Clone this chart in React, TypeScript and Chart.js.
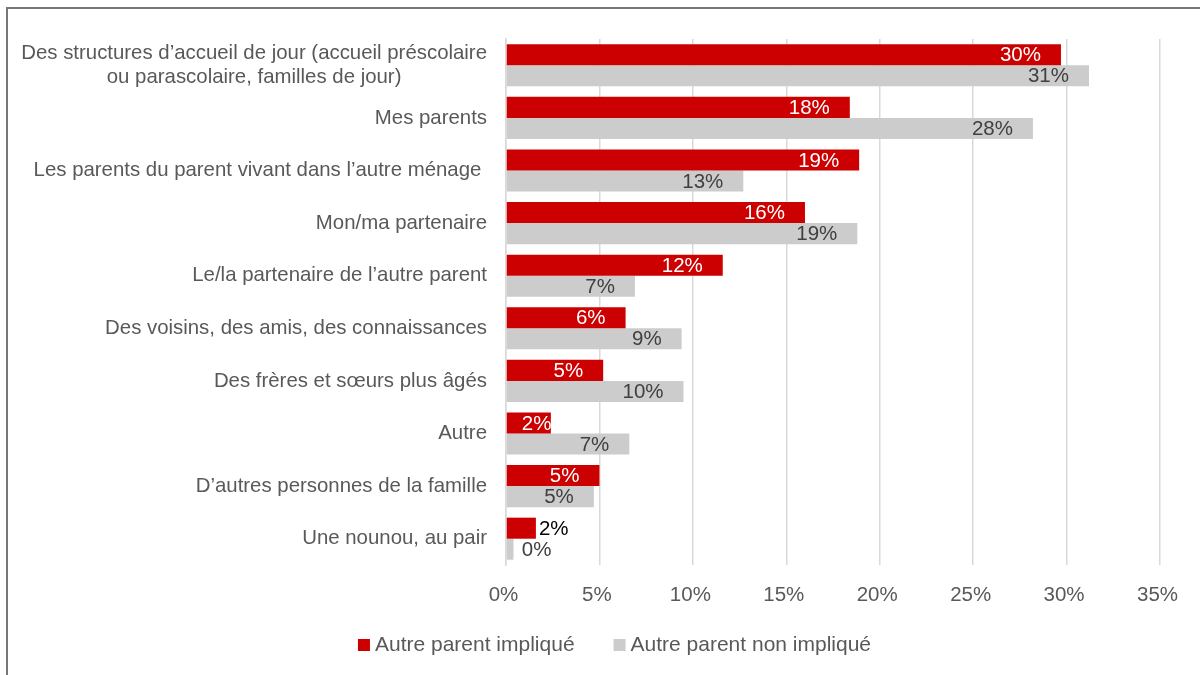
import React, { useEffect, useRef } from "react";
import { Chart, registerables } from "chart.js";

Chart.register(...registerables);

const categories: (string | string[])[] = [
  ["Des structures d’accueil de jour (accueil préscolaire", "ou parascolaire, familles de jour)"],
  "Mes parents",
  "Les parents du parent vivant dans l’autre ménage ",
  "Mon/ma partenaire",
  "Le/la partenaire de l’autre parent",
  "Des voisins, des amis, des connaissances",
  "Des frères et sœurs plus âgés",
  "Autre",
  "D’autres personnes de la famille",
  "Une nounou, au pair",
];

const seriesNames = ["Autre parent impliqué", "Autre parent non impliqué"];
const impliqueValues = [29.7, 18.4, 18.9, 16.0, 11.6, 6.4, 5.2, 2.4, 5.0, 1.6];
const nonImpliqueValues = [31.2, 28.2, 12.7, 18.8, 6.9, 9.4, 9.5, 6.6, 4.7, 0.4];
const xMin = 0;
const xMax = 35;
const xStep = 5;

const RED = "#CC0000";
const GRAY = "#CCCCCC";
const TEXT = "#595959";
const FONT = "'Liberation Sans', Arial, sans-serif";

const categoryLabelPlugin = {
  id: "categoryLabels",
  afterDraw(chart: any) {
    const { ctx, chartArea } = chart;
    const yScale = chart.scales.y;
    ctx.save();
    ctx.font = `20.4px ${FONT}`;
    ctx.fillStyle = TEXT;
    ctx.textBaseline = "middle";
    const right = chartArea.left - 19;
    const lineH = 24;
    categories.forEach((cat, i) => {
      const y = yScale.getPixelForTick(i);
      const lines = Array.isArray(cat) ? cat : [cat];
      const maxW = Math.max(...lines.map((l) => ctx.measureText(l).width));
      const cx = right - maxW / 2;
      ctx.textAlign = "center";
      lines.forEach((l, k) => {
        const ly = y + (k - (lines.length - 1) / 2) * lineH;
        ctx.fillText(l, cx, ly);
      });
    });
    ctx.restore();
  },
};

const valueLabelPlugin = {
  id: "valueLabels",
  afterDatasetsDraw(chart: any) {
    const { ctx } = chart;
    ctx.save();
    ctx.font = `20.5px ${FONT}`;
    ctx.textBaseline = "middle";
    ctx.textAlign = "left";
    chart.data.datasets.forEach((ds: any, di: number) => {
      const meta = chart.getDatasetMeta(di);
      meta.data.forEach((el: any, i: number) => {
        const v = ds.data[i] as number;
        const text = Math.round(v) + "%";
        const w = ctx.measureText(text).width;
        const barW = el.x - el.base;
        let left: number;
        if (barW < w + 4) {
          left = Math.max(el.x + 3, el.base + 15);
          ctx.fillStyle = di === 0 ? "#000000" : "#404040";
        } else {
          const rightEdge = Math.max(el.x - 20, el.base + 15 + w);
          left = rightEdge - w;
          ctx.fillStyle = di === 0 ? "#FFFFFF" : "#404040";
        }
        ctx.fillText(text, left, el.y + 1);
      });
    });
    ctx.restore();
  },
};

const legendPlugin = {
  id: "customLegend",
  afterDraw(chart: any) {
    const { ctx } = chart;
    ctx.save();
    ctx.font = `21px ${FONT}`;
    ctx.textBaseline = "alphabetic";
    ctx.textAlign = "left";
    const box = 12;
    const gapText = 5;
    const gapItems = 39;
    const widths = seriesNames.map((n) => ctx.measureText(n).width);
    const total = widths.reduce((a, w) => a + box + gapText + w, 0) + gapItems * (seriesNames.length - 1);
    let x = chart.width / 2 + 10.5 - total / 2;
    const baseline = 642;
    chart.data.datasets.forEach((ds: any, i: number) => {
      ctx.fillStyle = ds.backgroundColor;
      ctx.fillRect(x, baseline - box, box, box);
      x += box + gapText;
      ctx.fillStyle = TEXT;
      ctx.fillText(seriesNames[i], x, baseline);
      x += widths[i] + gapItems;
    });
    ctx.restore();
  },
};

export default function App() {
  const canvasRef = useRef<HTMLCanvasElement | null>(null);

  useEffect(() => {
    if (!canvasRef.current) return;
    const chart = new Chart(canvasRef.current, {
      type: "bar",
      data: {
        labels: categories.map((c) => (Array.isArray(c) ? c.join(" ") : c)),
        datasets: [
          {
            label: seriesNames[0],
            data: impliqueValues,
            backgroundColor: RED,
            borderWidth: 0,
            categoryPercentage: 0.8,
            barPercentage: 1.0,
          },
          {
            label: seriesNames[1],
            data: nonImpliqueValues,
            backgroundColor: GRAY,
            borderWidth: 0,
            categoryPercentage: 0.8,
            barPercentage: 1.0,
          },
        ],
      },
      options: {
        indexAxis: "y",
        responsive: true,
        maintainAspectRatio: false,
        animation: false,
        layout: { padding: { left: 0, right: 40, top: 30, bottom: 0 } },
        plugins: {
          legend: { display: false },
          tooltip: { enabled: false },
          title: { display: false },
        },
        scales: {
          x: {
            type: "linear",
            min: xMin,
            max: xMax,
            ticks: {
              stepSize: xStep,
              padding: 18,
              labelOffset: -2.5,
              color: TEXT,
              font: { family: FONT, size: 20.5 },
              callback: (v: any) => v + "%",
            },
            grid: { color: "#D9D9D9", lineWidth: 1.5, drawTicks: false },
            border: { display: false },
            afterFit: (scale: any) => {
              scale.height = 110;
            },
          },
          y: {
            type: "category",
            ticks: { display: false },
            grid: { display: false, drawTicks: false },
            border: { display: true, color: "#D9D9D9", width: 1.5 },
            afterFit: (scale: any) => {
              scale.width = 498;
            },
          },
        },
      },
      plugins: [categoryLabelPlugin, valueLabelPlugin, legendPlugin],
    });
    return () => chart.destroy();
  }, []);

  return (
    <div
      style={{
        position: "absolute",
        left: 6,
        top: 7,
        width: 1194,
        height: 668,
        borderTop: "2px solid #777777",
        borderLeft: "2px solid #777777",
        boxSizing: "border-box",
        background: "#FFFFFF",
      }}
    >
      <div style={{ position: "relative", width: 1192, height: 666 }}>
        <canvas ref={canvasRef} />
      </div>
    </div>
  );
}
